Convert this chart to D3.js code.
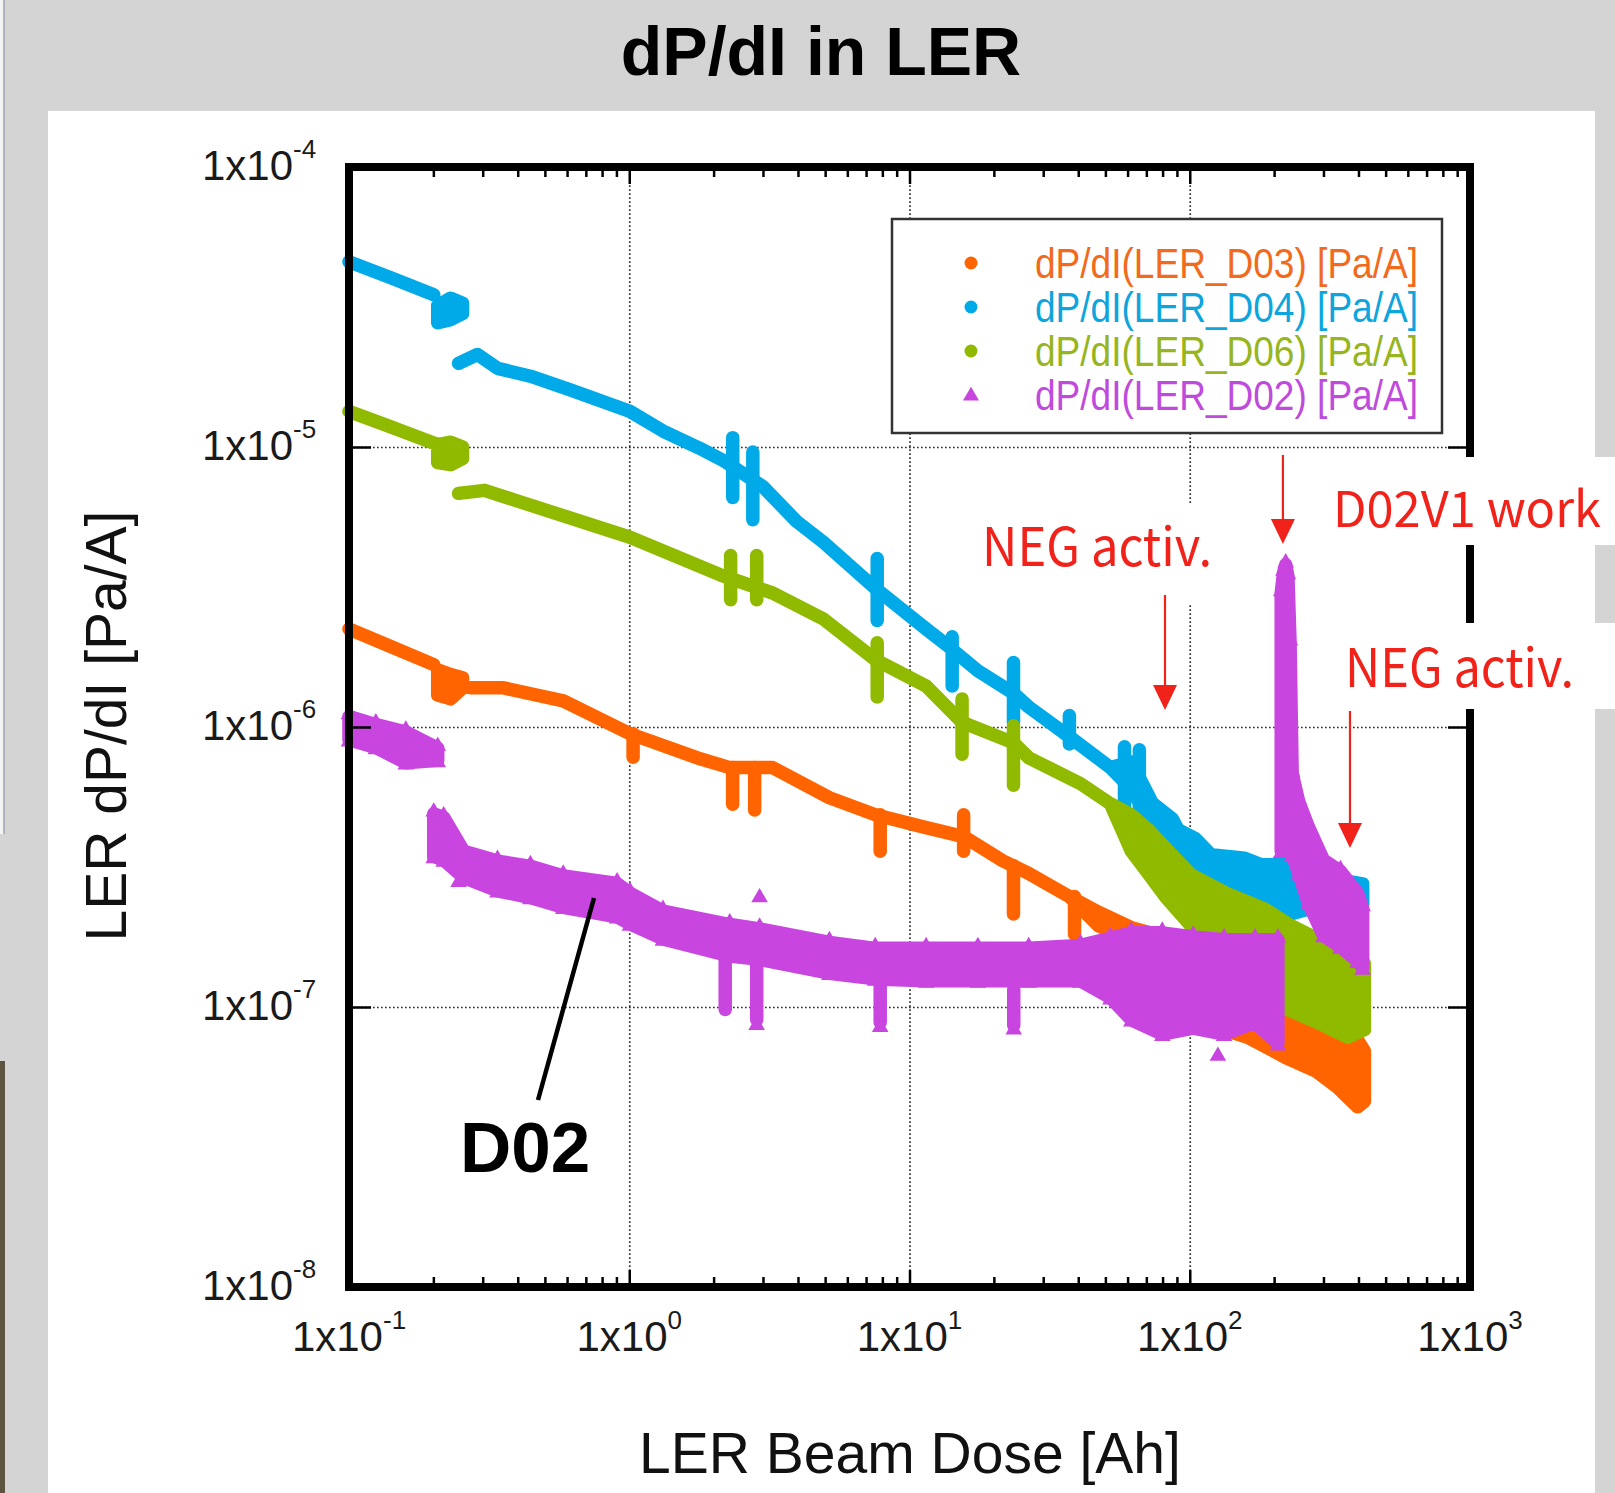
<!DOCTYPE html>
<html><head><meta charset="utf-8">
<script src="https://cdn.jsdelivr.net/npm/d3@7"></script>
<style>html,body{margin:0;padding:0;background:#d4d4d4;} svg{display:block}</style>
</head><body>
<svg id="chart" width="1615" height="1493"></svg>
<script>
// ---------------- data ----------------
const title = "dP/dI in LER";
const xLabel = "LER Beam Dose [Ah]";
const yLabel = "LER dP/dI [Pa/A]";
const xTickValues = [0.1, 1, 10, 100, 1000];
const xTickExponents = ["-1", "0", "1", "2", "3"];
const yTickValues = [1e-4, 1e-5, 1e-6, 1e-7, 1e-8];
const yTickExponents = ["-4", "-5", "-6", "-7", "-8"];
const seriesNames = ["dP/dI(LER_D03) [Pa/A]", "dP/dI(LER_D04) [Pa/A]", "dP/dI(LER_D06) [Pa/A]", "dP/dI(LER_D02) [Pa/A]"];
const seriesColors = ["#ff6400", "#00aae8", "#8fba00", "#c845e0"];
const legendTextColors = ["#f26a1b", "#0ea5dd", "#96b51e", "#bf4bdc"];
const seriesSymbols = ["circle", "circle", "circle", "triangle"];

// D03 (band: upper / lower envelope of the dense scatter; null = gap)
const d03Dose = [0.1, 0.1422, 0.2006, null, 0.2073, 0.2305, 0.2542, null, 0.2716, 0.3557, 0.5815, 1.006, 1.742, 2.283, 3.247, 5.18, 7.55, 11.46, 15.6, 21.5, 26.6, 37.2, 47.2, 61.9, 71.1, 94.7, 122, 161, 220, 282, 334, 397, 420];
const d03Hi = [2.24e-6, 1.93e-6, 1.67e-6, null, 1.60e-6, 1.54e-6, 1.50e-6, null, 1.38e-6, 1.38e-6, 1.24e-6, 9.46e-7, 7.77e-7, 7.16e-7, 7.16e-7, 5.59e-7, 4.86e-7, 4.37e-7, 4.06e-7, 3.33e-7, 3.00e-7, 2.48e-7, 2.18e-7, 1.92e-7, 1.85e-7, 1.70e-7, 1.26e-7, 1.02e-7, 8.97e-8, 8.27e-8, 7.93e-8, 7.62e-8, 6.96e-8];
const d03Lo = [2.24e-6, 1.93e-6, 1.67e-6, null, 1.30e-6, 1.26e-6, 1.38e-6, null, 1.38e-6, 1.38e-6, 1.24e-6, 9.46e-7, 7.77e-7, 7.16e-7, 7.16e-7, 5.59e-7, 4.86e-7, 4.37e-7, 4.06e-7, 3.33e-7, 3.00e-7, 2.48e-7, 1.95e-7, 1.74e-7, 1.62e-7, 1.40e-7, 8.5e-8, 7.8e-8, 6.6e-8, 5.9e-8, 5.2e-8, 4.4e-8, 4.6e-8];
const d03SpikeDose = [1.032, 2.339, 2.802, 7.86, 15.6, 23.5, 38.8];
const d03SpikeHi = [9.46e-7, 7.16e-7, 7.16e-7, 4.86e-7, 4.86e-7, 3.2e-7, 2.48e-7];
const d03SpikeLo = [7.8e-7, 5.3e-7, 5.05e-7, 3.6e-7, 3.6e-7, 2.15e-7, 1.82e-7];

// D04
const d04Dose = [0.1, 0.141, 0.2006, null, 0.2073, 0.2305, 0.2542, null, 0.246, 0.2875, 0.3388, 0.444, 0.616, 1.006, 1.32, 1.785, 2.19, 2.99, 3.95, 4.93, 7.55, 11.46, 13.6, 17.5, 23.5, 26.6, 37.2, 52.1, 61.9, 73.5, 86.6, 90.9, 104.5, 119, 157, 180, 229, 270, 337, 414];
const d04Hi = [4.59e-5, 4.02e-5, 3.50e-5, null, 3.20e-5, 3.40e-5, 3.26e-5, null, 1.99e-5, 2.14e-5, 1.91e-5, 1.79e-5, 1.60e-5, 1.34e-5, 1.14e-5, 9.89e-6, 8.89e-6, 7.24e-6, 5.43e-6, 4.57e-6, 3.13e-6, 2.24e-6, 1.96e-6, 1.59e-6, 1.32e-6, 1.18e-6, 9.23e-7, 7.16e-7, 7.5e-7, 5.35e-7, 4.7e-7, 4.3e-7, 4.0e-7, 3.5e-7, 3.4e-7, 3.22e-7, 3.22e-7, 3.02e-7, 2.85e-7, 2.75e-7];
const d04Lo = [4.59e-5, 4.02e-5, 3.50e-5, null, 2.78e-5, 2.85e-5, 3.0e-5, null, 1.99e-5, 2.14e-5, 1.91e-5, 1.79e-5, 1.60e-5, 1.34e-5, 1.14e-5, 9.89e-6, 8.89e-6, 7.24e-6, 5.43e-6, 4.57e-6, 3.13e-6, 2.24e-6, 1.96e-6, 1.59e-6, 1.32e-6, 1.18e-6, 9.23e-7, 7.16e-7, 6.0e-7, 4.45e-7, 3.85e-7, 3.6e-7, 3.12e-7, 2.82e-7, 2.6e-7, 2.35e-7, 2.15e-7, 2.25e-7, 2.38e-7, 2.32e-7];
const d04SpikeDose = [2.34, 2.76, 7.67, 14.2, 23.5, 37.2, 58.5, 66.1];
const d04SpikeHi = [1.08e-5, 9.6e-6, 4.0e-6, 2.1e-6, 1.70e-6, 1.10e-6, 8.5e-7, 8.3e-7];
const d04SpikeLo = [6.6e-6, 5.5e-6, 2.4e-6, 1.4e-6, 1.04e-6, 8.7e-7, 5.0e-7, 4.65e-7];

// D06
const d06Dose = [0.1, 0.141, 0.2073, null, 0.2073, 0.2305, 0.2542, null, 0.246, 0.3045, 0.3926, 1.006, 2.121, 3.247, 4.93, 7.55, 11.46, 15.4, 23.5, 26.6, 40.8, 52.1, 61.9, 71.1, 81.8, 101, 137, 185, 224, 286, 366, 420];
const d06Hi = [1.34e-5, 1.18e-5, 1.02e-5, null, 1.02e-5, 1.04e-5, 1.0e-5, null, 6.83e-6, 7.00e-6, 6.45e-6, 4.76e-6, 3.49e-6, 3.01e-6, 2.43e-6, 1.74e-6, 1.40e-6, 1.04e-6, 8.78e-7, 7.77e-7, 6.27e-7, 5.32e-7, 4.85e-7, 4.3e-7, 3.7e-7, 2.97e-7, 2.53e-7, 2.24e-7, 1.98e-7, 1.75e-7, 1.61e-7, 1.43e-7];
const d06Lo = [1.34e-5, 1.18e-5, 1.02e-5, null, 8.8e-6, 8.65e-6, 9.1e-6, null, 6.83e-6, 7.00e-6, 6.45e-6, 4.76e-6, 3.49e-6, 3.01e-6, 2.43e-6, 1.74e-6, 1.40e-6, 1.04e-6, 8.78e-7, 7.77e-7, 6.27e-7, 5.32e-7, 3.6e-7, 3.0e-7, 2.48e-7, 1.95e-7, 1.86e-7, 1.78e-7, 9.8e-8, 8.8e-8, 7.8e-8, 8.3e-8];
const d06SpikeDose = [2.30, 2.85, 7.67, 15.4, 23.5];
const d06SpikeHi = [4.1e-6, 4.1e-6, 2.0e-6, 1.26e-6, 1.01e-6];
const d06SpikeLo = [2.85e-6, 2.85e-6, 1.28e-6, 8.0e-7, 6.2e-7];

// D02
const d02Dose = [0.1, 0.1247, 0.1595, 0.2073, null, 0.2006, 0.2177, 0.2564, 0.3388, 0.4438, 0.5815, 0.905, 1.006, 1.319, 2.283, 2.918, 5.178, 7.546, 11.46, 17.54, 26.62, 40.76, 52.12, 61.89, 79.8, 102.8, 132.6, 170.9, 206.3, null, 212, 216, 220, 224, 228, 232, 245, 265, 300, 345, 397, 414];
const d02Hi = [1.09e-6, 1.02e-6, 9.6e-7, 8.4e-7, null, 4.9e-7, 4.75e-7, 3.6e-7, 3.32e-7, 3.18e-7, 2.94e-7, 2.76e-7, 2.55e-7, 2.2e-7, 1.97e-7, 1.9e-7, 1.7e-7, 1.62e-7, 1.62e-7, 1.62e-7, 1.62e-7, 1.66e-7, 1.76e-7, 1.84e-7, 1.84e-7, 1.78e-7, 1.74e-7, 1.74e-7, 1.74e-7, null, 3.0e-6, 3.55e-6, 3.8e-6, 3.45e-6, 2.0e-6, 6.8e-7, 5.4e-7, 4.4e-7, 3.35e-7, 3.05e-7, 2.55e-7, 2.25e-7];
const d02Lo = [9.0e-7, 8.45e-7, 7.45e-7, 7.6e-7, null, 3.45e-7, 3.35e-7, 2.9e-7, 2.6e-7, 2.46e-7, 2.27e-7, 2.1e-7, 1.98e-7, 1.75e-7, 1.52e-7, 1.48e-7, 1.32e-7, 1.26e-7, 1.24e-7, 1.24e-7, 1.24e-7, 1.24e-7, 1.08e-7, 9.0e-8, 8.0e-8, 8.4e-8, 8.0e-8, 8.8e-8, 7.4e-8, null, 3.6e-7, 3.6e-7, 3.6e-7, 3.6e-7, 3.8e-7, 3.5e-7, 3.0e-7, 2.35e-7, 1.8e-7, 1.64e-7, 1.46e-7, 1.38e-7];
const d02SpikeDose = [2.2, 2.85, 7.86, 23.55];
const d02SpikeHi = [1.6e-7, 1.6e-7, 1.2e-7, 1.16e-7];
const d02SpikeLo = [9.8e-8, 9.0e-8, 8.8e-8, 8.6e-8];
const d02OutlierDose = [0.2461, 2.918, 2.848, 7.86, 126, 23.55];
const d02OutlierVal = [2.79e-7, 2.46e-7, 8.61e-8, 8.47e-8, 6.68e-8, 8.3e-8];

// annotations
const annotationTexts = ["NEG activ.", "D02V1 work", "NEG activ."];
const arrowDose = [81.6, 215, 373];
const calloutText = "D02";

// ---------------- drawing ----------------
const W = 1615, H = 1493;
const svg = d3.select("#chart");
const sans = "'Liberation Sans', Arial, Helvetica, sans-serif";
const annFont = "'Noto Sans CJK JP', 'Noto Sans', sans-serif";
const markerWidth = 13.5;

svg.append("rect").attr("width", W).attr("height", H).attr("fill", "#d4d4d4");
// slide edge remnants at left
svg.append("rect").attr("x", 0).attr("y", 0).attr("width", 4).attr("height", 834).attr("fill", "#f4f4f4");
svg.append("line").attr("x1", 4).attr("x2", 4).attr("y1", 0).attr("y2", 834).attr("stroke", "#9aa6b4").attr("stroke-width", 1.5);
svg.append("rect").attr("x", 0).attr("y", 1061).attr("width", 5).attr("height", 432).attr("fill", "#5c5340");
// white panel
svg.append("rect").attr("x", 48).attr("y", 111).attr("width", 1547).attr("height", 1382).attr("fill", "#ffffff");

// title
svg.append("text").attr("x", 821).attr("y", 75).attr("text-anchor", "middle")
  .style("font", "bold 68px " + sans).attr("fill", "#000").text(title);

const x = d3.scaleLog().domain([0.1, 1000]).range([349, 1470]);
const y = d3.scaleLog().domain([1e-8, 1e-4]).range([1287, 167]);
const [px0, px1] = x.range();
const [py1, py0] = y.range();

// grid (dotted) at inner decades
const gridX = xTickValues.slice(1, -1), gridY = yTickValues.slice(1, -1);
const gGrid = svg.append("g");
gGrid.append("g").attr("transform", `translate(0,${py1})`)
  .call(d3.axisBottom(x).tickValues(gridX).tickSize(-(py1 - py0)).tickFormat(""))
  .call(g => g.select(".domain").remove());
gGrid.append("g").attr("transform", `translate(${px0},0)`)
  .call(d3.axisLeft(y).tickValues(gridY).tickSize(-(px1 - px0)).tickFormat(""))
  .call(g => g.select(".domain").remove());
gGrid.selectAll("line").attr("stroke", "#333").attr("stroke-width", 1.7).attr("stroke-dasharray", "1.7,2.3");

// data
const series = [
  {dose: d03Dose, hi: d03Hi, lo: d03Lo, sD: d03SpikeDose, sH: d03SpikeHi, sL: d03SpikeLo, oD: [], oV: []},
  {dose: d04Dose, hi: d04Hi, lo: d04Lo, sD: d04SpikeDose, sH: d04SpikeHi, sL: d04SpikeLo, oD: [], oV: []},
  {dose: d06Dose, hi: d06Hi, lo: d06Lo, sD: d06SpikeDose, sH: d06SpikeHi, sL: d06SpikeLo, oD: [], oV: []},
  {dose: d02Dose, hi: d02Hi, lo: d02Lo, sD: d02SpikeDose, sH: d02SpikeHi, sL: d02SpikeLo, oD: d02OutlierDose, oV: d02OutlierVal}
];
const gData = svg.append("g");
const tri = d3.symbol().type(d3.symbolTriangle).size(120);
series.forEach((s, i) => {
  const col = seriesColors[i];
  const pts = s.dose.map((d, j) => ({dose: d, hi: s.hi[j], lo: s.lo[j]}));
  const area = d3.area().defined(p => p.dose != null)
    .x(p => x(p.dose)).y0(p => y(p.lo)).y1(p => y(p.hi));
  const g = gData.append("g");
  g.append("path").attr("d", area(pts)).attr("fill", col).attr("stroke", col)
    .attr("stroke-width", markerWidth).attr("stroke-linejoin", "round").attr("stroke-linecap", "round");
  s.sD.forEach((d, j) => {
    g.append("line").attr("x1", x(d)).attr("x2", x(d)).attr("y1", y(s.sH[j])).attr("y2", y(s.sL[j]))
      .attr("stroke", col).attr("stroke-width", markerWidth).attr("stroke-linecap", "round");
  });
  if (seriesSymbols[i] === "triangle") {
    const vp = pts.filter(p => p.dose != null);
    vp.forEach(p => {
      g.append("path").attr("d", tri).attr("fill", col).attr("transform", `translate(${x(p.dose)},${y(p.hi) - 2})`);
      g.append("path").attr("d", tri).attr("fill", col).attr("transform", `translate(${x(p.dose)},${y(p.lo) + 2})`);
    });
    s.oD.forEach((d, j) => {
      g.append("path").attr("d", tri).attr("fill", col).attr("transform", `translate(${x(d)},${y(s.oV[j])})`);
    });
  }
});

// frame
svg.append("rect").attr("x", px0).attr("y", py0).attr("width", px1 - px0).attr("height", py1 - py0)
  .attr("fill", "none").attr("stroke", "#000").attr("stroke-width", 8);

// ticks (inside)
const minorX = [];
xTickValues.slice(0, -1).forEach(d => { for (let k = 2; k <= 9; k++) minorX.push(d * k); });
const gTicks = svg.append("g");
gTicks.append("g").attr("transform", `translate(0,${py1})`).call(d3.axisBottom(x).tickValues(xTickValues).tickSize(-17).tickFormat(""));
gTicks.append("g").attr("transform", `translate(0,${py1})`).call(d3.axisBottom(x).tickValues(minorX).tickSize(-10).tickFormat(""));
gTicks.append("g").attr("transform", `translate(0,${py0})`).call(d3.axisTop(x).tickValues(xTickValues).tickSize(-17).tickFormat(""));
gTicks.append("g").attr("transform", `translate(0,${py0})`).call(d3.axisTop(x).tickValues(minorX).tickSize(-10).tickFormat(""));
gTicks.append("g").attr("transform", `translate(${px0},0)`).call(d3.axisLeft(y).tickValues(yTickValues).tickSize(-22).tickFormat(""));
gTicks.append("g").attr("transform", `translate(${px1},0)`).call(d3.axisRight(y).tickValues(yTickValues).tickSize(-22).tickFormat(""));
gTicks.selectAll(".domain").remove();
gTicks.selectAll("line").attr("stroke", "#000").attr("stroke-width", 2.5);

// tick labels
xTickValues.forEach((v, i) => {
  const t = svg.append("text").attr("x", x(v)).attr("y", 1351).attr("text-anchor", "middle")
    .style("font", "42px " + sans).attr("fill", "#1a1a1a");
  t.append("tspan").text("1x10");
  t.append("tspan").attr("dy", -22).style("font-size", "26px").text(xTickExponents[i]);
});
yTickValues.forEach((v, i) => {
  const t = svg.append("text").attr("x", 202).attr("y", y(v) + 13).attr("text-anchor", "start")
    .style("font", "42px " + sans).attr("fill", "#1a1a1a");
  t.append("tspan").text("1x10");
  t.append("tspan").attr("dy", -22).style("font-size", "26px").text(yTickExponents[i]);
});

// axis titles
svg.append("text").attr("x", 910).attr("y", 1473).attr("text-anchor", "middle")
  .style("font", "57px " + sans).attr("fill", "#111").text(xLabel);
svg.append("text").attr("transform", "translate(126,726) rotate(-90)").attr("text-anchor", "middle")
  .style("font", "57px " + sans).attr("fill", "#111").text(yLabel);

// legend
const lg = svg.append("g");
lg.append("rect").attr("x", 892).attr("y", 219).attr("width", 550).attr("height", 214)
  .attr("fill", "#fff").attr("stroke", "#333").attr("stroke-width", 2.5);
seriesNames.forEach((n, i) => {
  const by = 278 + i * 44;
  if (seriesSymbols[i] === "triangle") {
    lg.append("path").attr("d", d3.symbol().type(d3.symbolTriangle).size(110)).attr("fill", seriesColors[i])
      .attr("transform", `translate(971,${by - 14})`);
  } else {
    lg.append("circle").attr("cx", 971).attr("cy", by - 15).attr("r", 6.5).attr("fill", seriesColors[i]);
  }
  lg.append("text").attr("x", 1035).attr("y", by).attr("textLength", 383).attr("lengthAdjust", "spacingAndGlyphs")
    .style("font", "42px " + sans).attr("fill", legendTextColors[i]).text(n);
});

// annotation backgrounds (white boxes)
const red = "#f0221a";
svg.append("rect").attr("x", 975).attr("y", 505).attr("width", 240).attr("height", 100).attr("fill", "#fff");
svg.append("rect").attr("x", 1330).attr("y", 457).attr("width", 285).attr("height", 88).attr("fill", "#fff");
svg.append("rect").attr("x", 1340).attr("y", 623).attr("width", 275).attr("height", 86).attr("fill", "#fff");

const annPos = [[982, 566, 230, 53], [1333, 527, 268, 49], [1345, 687, 229, 53]];
annotationTexts.forEach((t, i) => {
  svg.append("text").attr("x", annPos[i][0]).attr("y", annPos[i][1])
    .attr("textLength", annPos[i][2]).attr("lengthAdjust", "spacingAndGlyphs")
    .style("font", annPos[i][3] + "px " + annFont).attr("fill", red).text(t);
});

// arrows
const arrowY = [[595, 710], [455, 544], [711, 848]];
arrowDose.forEach((d, i) => {
  const ax = x(d), [ya, yb] = arrowY[i];
  svg.append("line").attr("x1", ax).attr("x2", ax).attr("y1", ya).attr("y2", yb - 20)
    .attr("stroke", red).attr("stroke-width", 2.2);
  svg.append("path").attr("d", `M${ax - 12},${yb - 25}L${ax + 12},${yb - 25}L${ax},${yb}Z`).attr("fill", red);
});

// D02 callout
svg.append("line").attr("x1", 538).attr("y1", 1100).attr("x2", 594).attr("y2", 898)
  .attr("stroke", "#000").attr("stroke-width", 4.5);
svg.append("text").attr("x", 460).attr("y", 1172).style("font", "bold 71px " + sans).attr("fill", "#000").text(calloutText);
</script>
</body></html>
